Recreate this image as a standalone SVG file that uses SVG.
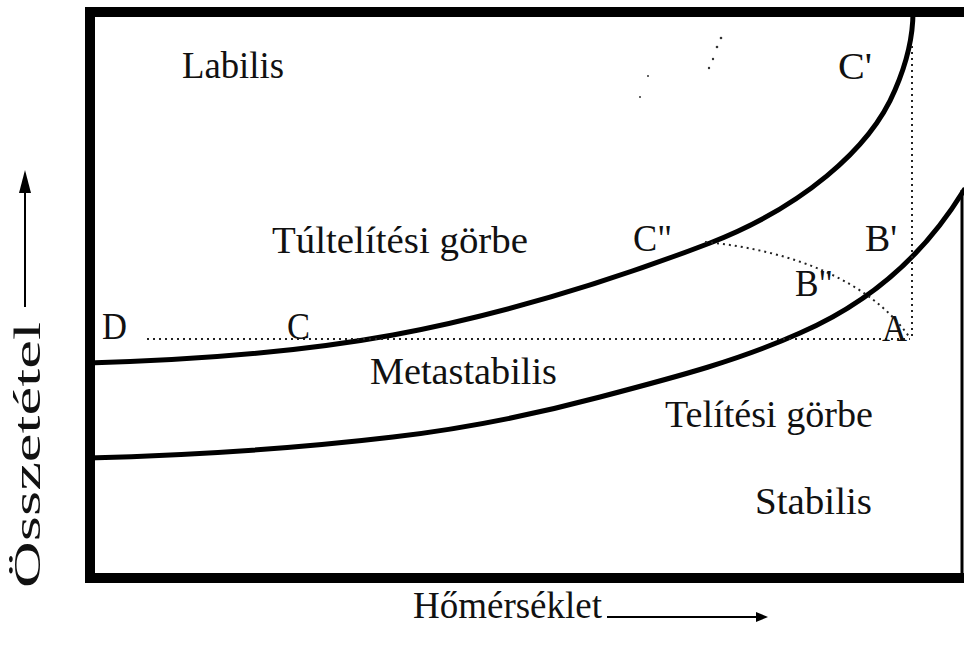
<svg xmlns="http://www.w3.org/2000/svg" width="964" height="654" viewBox="0 0 964 654">
<style>
text{font-family:"Liberation Serif","Times New Roman",serif;font-size:38px;fill:#111}
.frame{fill:none;stroke:#000;stroke-width:10}
.curve{fill:none;stroke:#000;stroke-width:5;stroke-linecap:round}
.dot{fill:none;stroke:#222;stroke-width:2;stroke-dasharray:2 4}
.ax{stroke:#000;stroke-width:2;fill:none}
</style>
<rect width="964" height="654" fill="#fff"/>
<g id="frame">
<path class="frame" d="M968,12 H90 V578 H968"/>
<line x1="962" y1="190" x2="962" y2="578" stroke="#000" stroke-width="3"/>
</g>
<g id="connectors">
<path id="tultelitesi" class="curve" d="M88,363 C200,360 300,352 393,335 C500,315 600,285 710,243 C800,208 870,150 895,90 C908,60 913,35 913,12"/>
<path id="telitesi" class="curve" d="M88,458 C200,455 300,448 393,437 C470,428 540,413 600,397 C680,376 740,360 800,333 C860,307 920,262 964,190"/>
<line class="dot" x1="147" y1="339" x2="910" y2="339"/>
<line class="dot" x1="912" y1="46" x2="912" y2="339"/>
<path class="dot" d="M705,242 C790,250 870,280 910,338"/>
</g>
<g id="specks" fill="#333">
<circle cx="721" cy="38" r="1.3"/><circle cx="717" cy="47" r="1.3"/><circle cx="713" cy="59" r="1.2"/><circle cx="709" cy="68" r="1.2"/><circle cx="648" cy="76" r="1"/><circle cx="640" cy="97" r="1"/>
</g>
<g id="labels">
<text x="182" y="78" textLength="102" lengthAdjust="spacingAndGlyphs">Labilis</text>
<text x="838" y="79" textLength="34" lengthAdjust="spacingAndGlyphs">C'</text>
<text x="272" y="253" textLength="256" lengthAdjust="spacingAndGlyphs">Túltelítési görbe</text>
<text x="633" y="251" textLength="39" lengthAdjust="spacingAndGlyphs">C"</text>
<text x="865" y="251" textLength="32" lengthAdjust="spacingAndGlyphs">B'</text>
<text x="795" y="296" textLength="38" lengthAdjust="spacingAndGlyphs">B"</text>
<text x="102" y="339" textLength="25" lengthAdjust="spacingAndGlyphs">D</text>
<text x="287" y="339" textLength="23" lengthAdjust="spacingAndGlyphs">C</text>
<text x="882" y="341" textLength="25" lengthAdjust="spacingAndGlyphs">A</text>
<text x="370" y="384" textLength="187" lengthAdjust="spacingAndGlyphs">Metastabilis</text>
<text x="665" y="427" textLength="208" lengthAdjust="spacingAndGlyphs">Telítési görbe</text>
<text x="755" y="514" textLength="117" lengthAdjust="spacingAndGlyphs">Stabilis</text>
</g>
<g id="x-axis">
<text x="413" y="618" textLength="189" lengthAdjust="spacingAndGlyphs">Hőmérséklet</text>
<line class="ax" x1="607" y1="617" x2="760" y2="617"/>
<polygon points="768,617 756,612 756,622" fill="#000"/>
</g>
<g id="y-axis">
<text transform="translate(40,588) rotate(-90)" x="0" y="0" font-size="40" textLength="266" lengthAdjust="spacingAndGlyphs">Összetétel</text>
<line class="ax" x1="25" y1="307" x2="25" y2="190"/>
<polygon points="25,170 19,193 31,193" fill="#000"/>
</g>
</svg>
